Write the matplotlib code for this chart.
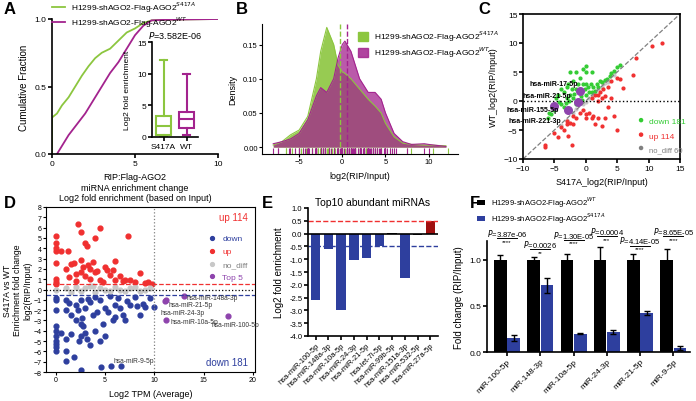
import matplotlib
matplotlib.use('Agg')
import matplotlib.pyplot as plt
from matplotlib.patches import Patch

plt.rcParams['font.family'] = ['Liberation Sans', 'DejaVu Sans']
plt.rcParams['font.size'] = 6

GREEN = '#8cc63f'
PURPLE = '#a3238e'
RED = '#f03030'
BLUE = '#2e3f9e'
DGREEN = '#33cc33'
GRAY = '#c8c8c8'
TOP = '#8e44ad'

# A: cumulative fraction
cdf_s_x = [0, 0, 0.3, 0.6, 1.0, 1.4, 1.8, 2.2, 2.6, 3.0, 3.5, 4.0, 4.5, 5.0, 5.5, 6.0, 7.0, 10.0]
cdf_s_y = [0, 0.27, 0.30, 0.36, 0.42, 0.50, 0.58, 0.65, 0.71, 0.75, 0.78, 0.84, 0.90, 0.93, 0.97, 0.99, 0.995, 1.0]
cdf_w_x = [0.3, 0.6, 1.0, 1.5, 2.0, 2.5, 3.0, 3.5, 4.0, 4.5, 5.0, 5.5, 6.0, 7.0, 10.0]
cdf_w_y = [0, 0.06, 0.14, 0.22, 0.30, 0.40, 0.50, 0.60, 0.68, 0.78, 0.88, 0.95, 0.99, 0.995, 1.0]
box_s = dict(whislo=0, q1=0.3, med=1.7, q3=3.3, whishi=12.2)
box_w = dict(whislo=0.3, q1=1.5, med=2.8, q3=4.0, whishi=10.0)

# B: density curves
dens_x = [-8, -7, -6, -5, -4, -3, -2.5, -1.8, -1, -0.5, 0, 0.3, 1, 2, 3, 3.8, 4.5, 5, 6, 7, 8, 9.5, 10, 12]
dens_s = [0.003, 0.008, 0.018, 0.025, 0.045, 0.10, 0.14, 0.175, 0.15, 0.12, 0.11, 0.108, 0.10, 0.085, 0.07, 0.06, 0.05, 0.035, 0.015, 0.006, 0.004, 0.003, 0.003, 0.002]
dens_w = [0.005, 0.008, 0.012, 0.02, 0.04, 0.075, 0.087, 0.08, 0.10, 0.13, 0.15, 0.155, 0.14, 0.10, 0.08, 0.08, 0.07, 0.05, 0.02, 0.008, 0.004, 0.005, 0.004, 0.001]
mean_s, mean_w = -0.3, 0.5

# C: scatter
c_down_x = [-6, -5.5, -5, -4.8, -4.5, -4, -4, -3.5, -3.5, -3, -3, -2.8, -2.5, -2.5, -2.2, -2, -2, -1.8, -1.5, -1.5,
            -1.2, -1, -1, -0.8, -0.5, -0.5, -0.2, 0, 0, 0, 0, 0.3, 0.5, 0.8, 1, 1, 1.2, 1.5, 1.8, 2,
            2.2, 2.5, 3, 3.3, 3.8, 4, 4.5, 5, 5.5, -5.8, -4.2, -3.2, -2.6, -1.6, -0.6]
c_down_y = [-3, -2.2, -1.5, 0.5, 1, 2, -0.5, 1.5, -1, 0.5, 2.5, 3, 1, 5, 2, 3.5, 0.5, 1.2, 2, 5,
            3, 1.5, 4, 0.8, 3, 5.5, 2, 1, 3, 5, 6, 2.5, 1.5, 3, 1.5, 5, 2.5, 1.8, 3, 2.5,
            3.5, 3.2, 3.6, 3.8, 4.3, 4.8, 5.2, 5.8, 6.2, -2, -0.2, -0.3, 0, -0.5, 0.2]
c_up_x = [-6.5, -6.5, -5, -4.5, -4, -3.5, -3, -3, -2.5, -2.2, -2, -2, -1.5, -1, -0.5, 0, 0, 0.5, 1, 1,
          1.5, 1.5, 2, 2, 2, 2.2, 2.5, 2.5, 3, 3, 3.5, 3.5, 4, 4, 4.5, 5, 5, 5.5, 6, 7.5,
          8, 10.5, 12.2, -2.8, 1.2, 2.8]
c_up_y = [-7.5, -8, -5.5, -6.2, -4.5, -5, -4, -3.5, -3.8, -7.5, -2.5, -4, -3, -2, -1.5, -2.2, -3, -2, -3, 0.5,
          -4, 1, 0, 1, -3, 1.5, 0.5, -4.3, 0.8, -3, 2.5, -1, 3.5, 0.5, -2.5, 4, -5, 3.8, 2.2, 4.5,
          7.5, 9.5, 10, -6, -2.5, 2]
c_nd_x = [-3, -2, -1.5, -0.5, 0.5, 1, 1.5, 2, 2.5, 3, 3.5, -4, 0, 4.5, 2.8]
c_nd_y = [-3.2, -2, -1.3, -0.6, 0.6, 1.1, 1.4, 2.1, 2.4, 3.1, 3.3, -4.1, -0.2, 4.4, 2.9]
c_lab = ['hsa-miR-17-5p', 'hsa-miR-21-5p', 'hsa-miR-155-5p', 'hsa-miR-221-3p']
c_lab_x = [-1, -1.2, -5, -2.8]
c_lab_y = [1.8, -0.2, -0.8, -1.5]

# D: enrichment vs TPM
d_up_x = [0, 0, 0, 0, 0, 0, 0, 0, 0.5, 1, 1.2, 1.5, 1.8, 2, 2, 2.2, 2.5, 2.5, 2.8, 3, 3, 3.2, 3.5, 3.5, 3.8,
          4, 4, 4.2, 4.5, 4.5, 5, 5.2, 5.5, 5.8, 6, 6, 6.5, 6.8, 7.3, 7.5, 8, 8.5, 9, 9.3, 9.8, 2.6, 3.3, 1.3, 4.8, 7]
d_up_y = [5.2, 4.5, 4, 3.7, 2.6, 1, 0.7, 0.5, 3.7, 2, 3.7, 2.5, 2.6, 1.5, 0.8, 6.4, 5.6, 1.7, 2.2, 4.5, 1.3, 4.2, 2, 1, 2.7,
          5, 1.7, 1.8, 6, 0.9, 2.2, 1.9, 1.4, 1.9, 2.8, 0.9, 1.3, 0.8, 5.2, 0.9, 0.7, 1.6, 0.6, 0.7, 0.5, 2.9, 2.4, 1.2, 0.7, 0.9]
d_dn_x = [0, 0, 0, 0, 0, 0, 0, 0, 0, 0, 0.5, 1, 1, 1, 1, 1, 1.5, 1.5, 1.8, 2, 2, 2.2, 2.3, 2.5, 2.5, 2.5, 2.7, 2.8,
          3, 3, 3.2, 3.5, 3.5, 3.8, 4, 4, 4.2, 4.5, 4.5, 4.8, 5, 5, 5.3, 5.5, 5.8, 6, 6, 6.3, 6.5, 6.8, 7, 7.2, 7.5,
          8, 8.2, 8.5, 8.8, 9, 9.5, 10, 2.5, 4.6, 5.6, 6.6, 1.3, 3.3]
d_dn_y = [-3.5, -4, -4.5, -5, -5.3, -5.6, -6, -2, -1, -0.8, -4.2, -1, -2, -4.8, -6, -6.9, -2.5, -4.3, -6.5, -1.5, -3, -2, -5,
          -1, -3.3, -4.5, -2.8, -3.5, -1.8, -4.2, -4.8, -1.2, -5.4, -2.5, -0.7, -4, -2.2, -1, -5, -3.3, -1.8, -4.5, -2.2,
          -0.6, -3, -1.5, -2.7, -0.8, -1.8, -2.5, -3, -1.1, -1.5, -0.7, -1.6, -2.5, -1.4, -1.7, -0.8, -1.7,
          -7.8, -7.5, -7.4, -7.4, -1.3, -0.9]
d_nd_x = [0, 1, 1.5, 2, 2.5, 3, 3.5, 4, 4.5, 5, 5.5, 6, 6.5, 7, 7.5, 8, 8.5, 9, 9.5, 3.8]
d_nd_y = [0, 0.1, -0.2, 0.2, -0.1, 0.1, 0.3, -0.2, 0.1, 0, -0.1, 0.2, 0, -0.1, 0.1, 0.2, -0.1, 0, 0.1, 0.3]
d_top_x = [11.2, 11.1, 13, 11.2, 17.5]
d_top_y = [-1.0, -1.1, -0.6, -3.0, -2.6]

# E: top10 abundant
e_names = ['hsa-miR-100-5p', 'hsa-miR-148a-3p', 'hsa-miR-10a-5p', 'hsa-miR-24-3p', 'hsa-miR-21-5p',
           'hsa-let-7i-5p', 'hsa-miR-99b-5p', 'hsa-miR-151a-3p', 'hsa-miR-532-5p', 'hsa-miR-27a-5p']
e_vals = [-2.6, -0.6, -3.0, -1.05, -0.97, -0.5, 0.03, -1.75, -0.05, 0.5]

# F: qPCR
f_names = ['miR-100-5p', 'miR-148-3p', 'miR-10a-5p', 'miR-24-3p', 'miR-21-5p', 'miR-9-5p']
f_wt = [1, 1, 1, 1, 1, 1]
f_wt_err = [0.05, 0.03, 0.06, 0.13, 0.06, 0.11]
f_mut = [0.15, 0.72, 0.2, 0.22, 0.42, 0.04]
f_mut_err = [0.03, 0.08, 0.01, 0.02, 0.02, 0.02]
f_p = ['3.87e-06', '0.0026', '1.30E-05', '0.0004', '4.14E-05', '8.65E-05']
f_star = ['****', '**', '****', '***', '****', '****']
f_p_y = [1.23, 1.11, 1.21, 1.25, 1.15, 1.25]


W, H = 696, 402
fig = plt.figure(figsize=(W / 100, H / 100), dpi=100)


def ax_px(x0, y0, x1, y1):
    return fig.add_axes([x0 / W, 1 - y1 / H, (x1 - x0) / W, (y1 - y0) / H])


def prism(ax):
    for s in ['top', 'right']:
        ax.spines[s].set_visible(False)
    for s in ['left', 'bottom']:
        ax.spines[s].set_linewidth(1.2)
    ax.tick_params(width=1.2, length=3, pad=1)


for lab, x, y in [('A', 4, 2), ('B', 236, 2), ('C', 478, 2), ('D', 4, 196), ('E', 262, 196), ('F', 470, 196)]:
    fig.text(x / W, 1 - y / H, lab, fontsize=12, fontweight='bold', va='top')

# ---- A
ax = ax_px(52, 20, 218, 155)
ax.plot(cdf_s_x, cdf_s_y, color=GREEN, lw=1.3, label='H1299-shAGO2-Flag-AGO2$^{S417A}$')
ax.plot(cdf_w_x, cdf_w_y, color=PURPLE, lw=1.3, label='H1299-shAGO2-Flag-AGO2$^{WT}$')
ax.set_xlim(0, 10)
ax.set_ylim(0, 1.0)
ax.set_xticks([0, 5, 10])
ax.set_yticks([0, 0.5, 1.0])
ax.set_yticklabels(['0.0', '0.5', '1.0'])
ax.set_ylabel('Cumulative Fraction', fontsize=7)
ax.set_xlabel('RIP:Flag-AGO2\nmiRNA enrichment change\nLog2 fold enrichment (based on Input)', fontsize=6.5)
prism(ax)
fig.legend(*ax.get_legend_handles_labels(), loc='upper left', bbox_to_anchor=(52 / W, 1 - 1 / H),
           frameon=False, fontsize=6, handlelength=1.5, labelspacing=0.05, borderaxespad=0, borderpad=0)
ins = ax_px(152, 43, 198, 138)
bp = ins.bxp([box_s, box_w], showfliers=False, widths=0.65, patch_artist=True)
for i, c in enumerate([GREEN, PURPLE]):
    bp['boxes'][i].set(facecolor='white', edgecolor=c, lw=1.5)
    bp['medians'][i].set(color=c, lw=1.5)
    for k in (2 * i, 2 * i + 1):
        bp['whiskers'][k].set(color=c, lw=1.5)
        bp['caps'][k].set(color=c, lw=1.5)
ins.set_ylim(0, 15)
ins.set_yticks([0, 5, 10, 15])
ins.set_xticks([1, 2])
ins.set_xticklabels(['S417A', 'WT'])
ins.set_ylabel('Log2 fold enrichment', fontsize=6)
ins.set_title('$P$=3.582E-06', fontsize=6.5, pad=3)
prism(ins)
ins.patch.set_alpha(0)

# ---- B
ax = ax_px(262, 25, 458, 155)
ax.fill_between(dens_x, dens_s, color=GREEN, alpha=0.9, lw=0)
ax.plot(dens_x, dens_s, color=GREEN, lw=0.8)
ax.fill_between(dens_x, dens_w, color=PURPLE, alpha=0.75, lw=0)
ax.plot(dens_x, dens_w, color=PURPLE, lw=0.8)
ax.axvline(mean_s, color=GREEN, ls='--', lw=1)
ax.axvline(mean_w, color=PURPLE, ls='--', lw=1)
ax.plot(c_down_x + c_up_x + c_nd_x, [-0.006] * (len(c_down_x) + len(c_up_x) + len(c_nd_x)), '|', color=GREEN, ms=4, mew=0.8)
ax.plot(c_down_y + c_up_y + c_nd_y, [-0.006] * (len(c_down_y) + len(c_up_y) + len(c_nd_y)), '|', color=PURPLE, ms=4, mew=0.8)
ax.set_xlim(-9.3, 13.4)
ax.set_ylim(-0.01, 0.18)
ax.set_xticks([-5, 0, 5, 10])
ax.set_yticks([0, 0.05, 0.10, 0.15])
ax.set_yticklabels(['0.00', '0.05', '0.10', '0.15'])
ax.set_xlabel('log2(RIP/Input)', fontsize=6.5)
ax.set_ylabel('Density', fontsize=6.5)
for s in ['top', 'right']:
    ax.spines[s].set_visible(False)
ax.tick_params(length=2, pad=1, labelsize=5.5)
ax.legend(handles=[Patch(color=GREEN, label='H1299-shAGO2-Flag-AGO2$^{S417A}$'),
                   Patch(color=PURPLE, alpha=0.85, label='H1299-shAGO2-Flag-AGO2$^{WT}$')],
          loc='upper left', bbox_to_anchor=(0.45, 1.02), frameon=False, fontsize=6,
          handlelength=1.2, handleheight=1.2, labelspacing=0.2)

# ---- C
ax = ax_px(523, 15, 680, 160)
ax.plot([-10, 15], [-10, 15], color='gray', ls='--', lw=0.9)
ax.axhline(0, color='black', ls=':', lw=1)
ax.scatter(c_nd_x, c_nd_y, s=4, color=GRAY)
ax.scatter(c_up_x, c_up_y, s=4, color=RED)
ax.scatter(c_down_x, c_down_y, s=4, color=DGREEN)
ax.scatter(c_lab_x, c_lab_y, s=30, color=TOP, zorder=5)
for t, x, y in zip(c_lab, [-1.3, -2.3, -4.3, -4.0], [3.0, 1.0, -1.5, -3.3]):
    ax.text(x, y, t, fontsize=5, fontweight='bold', ha='right', va='center', zorder=6)
ax.set_xlim(-10, 15)
ax.set_ylim(-10, 15)
ax.set_xticks([-10, -5, 0, 5, 10, 15])
ax.set_yticks([-10, -5, 0, 5, 10, 15])
ax.set_xlabel('S417A_log2(RIP/Input)', fontsize=6.5)
ax.set_ylabel('WT_log2(RIP/Input)', fontsize=6.5)
for s in ax.spines.values():
    s.set_linewidth(1.2)
ax.tick_params(width=1.2, length=3, pad=1)
ax.text(10, -3.8, 'down 181', color=DGREEN, fontsize=6)
ax.text(10, -6.3, 'up 114', color=RED, fontsize=6)
ax.text(10, -8.6, 'no_diff 60', color='gray', fontsize=5.5)
ax.scatter([8.8, 8.8, 8.8], [-3.3, -5.8, -8.1], s=5, color=[DGREEN, RED, 'gray'])

# ---- D
ax = ax_px(46, 208, 255, 373)
ax.scatter(d_dn_x, d_dn_y, s=12, color=BLUE, label='down')
ax.scatter(d_up_x, d_up_y, s=12, color=RED, label='up')
ax.scatter(d_nd_x, d_nd_y, s=12, color=GRAY, label='no_diff')
ax.scatter(d_top_x, d_top_y, s=12, color=TOP, label='Top 5')
ax.axhline(0.5, color=RED, ls='--', lw=0.9)
ax.axhline(-0.5, color=BLUE, ls='--', lw=0.9)
ax.axhline(0, color='black', ls=':', lw=0.9)
ax.axvline(10, color='gray', ls=':', lw=0.9)
for t, x, y in [('hsa-miR-148a-3p', 13.3, -0.8), ('hsa-miR-21-5p', 11.4, -1.5), ('hsa-miR-24-3p', 10.6, -2.2),
                ('hsa-miR-10a-5p', 11.6, -3.1), ('hsa-miR-100-5p', 15.8, -3.4), ('hsa-miR-9-5p', 5.8, -6.9)]:
    ax.text(x, y, t, fontsize=4.8, va='center', color='#333333')
ax.text(19.5, 6.7, 'up 114', color=RED, fontsize=7, ha='right')
ax.text(19.5, -7.3, 'down 181', color=BLUE, fontsize=7, ha='right')
ax.legend(loc='upper right', bbox_to_anchor=(1.0, 0.88), frameon=False, fontsize=6, handletextpad=0.2,
          labelcolor=[BLUE, RED, 'gray', TOP], markerscale=0.8, labelspacing=0.6)
ax.set_xlim(-1, 20.2)
ax.set_ylim(-8, 8)
ax.set_yticks(range(-8, 9))
ax.set_xticks([0, 5, 10, 15, 20])
ax.tick_params(labelsize=5, length=2, pad=1)
ax.set_xlabel('Log2 TPM (Average)', fontsize=6.5)
ax.set_ylabel('S417A vs WT\nEnrichment fold change\nlog2(RIP/Input)', fontsize=6.2, labelpad=1)

# ---- E
ax = ax_px(308, 209, 438, 337)
ecol = [BLUE] * 10
ecol[6] = 'black'
ecol[8] = 'black'
ecol[9] = '#a01010'
ax.bar(range(10), e_vals, color=ecol, width=0.75)
ax.axhline(0, color='black', lw=1.2)
ax.axhline(0.5, color=RED, ls='--', lw=1)
ax.axhline(-0.5, color=BLUE, ls='--', lw=1)
ax.set_xlim(-0.6, 9.6)
ax.set_ylim(-4, 1)
ax.set_yticks([i * 0.5 for i in range(-8, 3)])
ax.set_yticklabels(['%.1f' % (i * 0.5) for i in range(-8, 3)])
ax.set_xticks(range(10))
ax.set_xticklabels(e_names, rotation=45, ha='right', rotation_mode='anchor', fontsize=5.5)
ax.set_ylabel('Log2 fold enrichment', fontsize=7)
ax.set_title('Top10 abundant miRNAs', fontsize=7.5, pad=2)
prism(ax)
ax.tick_params(labelsize=5.5)

# ---- F
ax = ax_px(487, 242, 690, 353)
xs = range(len(f_names))
ax.bar([x - 0.2 for x in xs], f_wt, width=0.38, color='black', yerr=f_wt_err, capsize=2,
       error_kw=dict(lw=1, capthick=1), label='H1299-shAGO2-Flag-AGO2$^{WT}$')
ax.bar([x + 0.2 for x in xs], f_mut, width=0.38, color=BLUE, yerr=f_mut_err, capsize=2,
       error_kw=dict(lw=1, capthick=1), label='H1299-shAGO2-Flag-AGO2$^{S417A}$')
for x, p, st, y in zip(xs, f_p, f_star, f_p_y):
    ax.plot([x - 0.3, x + 0.3], [y, y], color='black', lw=0.7, clip_on=False)
    ax.text(x, y - 0.005, st, ha='center', va='top', fontsize=4.5)
    ax.text(x, y + 0.005, '$P$=' + p, ha='center', va='bottom', fontsize=5.5)
ax.set_xlim(-0.6, 5.5)
ax.set_ylim(0, 1.2)
ax.set_yticks([0, 0.5, 1.0])
ax.set_yticklabels(['0.0', '0.5', '1.0'])
ax.set_xticks(list(xs))
ax.set_xticklabels(f_names, rotation=45, ha='right', rotation_mode='anchor', fontsize=6)
ax.set_ylabel('Fold change (RIP/Input)', fontsize=7)
prism(ax)
ax.legend(loc='upper left', bbox_to_anchor=(477 / W, 1 - 196 / H), bbox_transform=fig.transFigure,
          frameon=False, fontsize=5.5, handlelength=1.0, handleheight=0.6, labelspacing=0.15,
          borderaxespad=0, borderpad=0)

fig.savefig('out.png', dpi=100)
